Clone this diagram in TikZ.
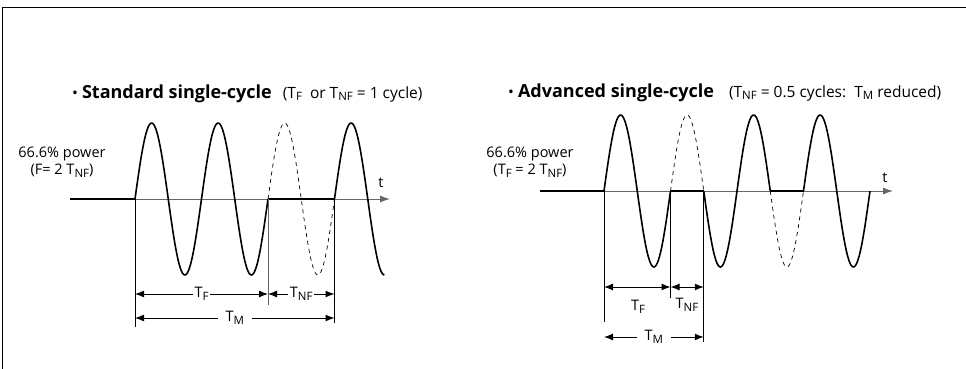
\documentclass[tikz,border=0pt]{standalone}
\usepackage{fontspec}
\setmainfont{Open Sans}
\usetikzlibrary{arrows.meta}
\newcommand{\lowidx}[1]{\raisebox{-0.35ex}{\fontsize{11.5}{12}\selectfont #1}}

\begin{document}
\begin{tikzpicture}[
    x=1pt, y=-1pt,
    wave/.style={line width=1.6pt, line join=round},
    ghost/.style={line width=0.7pt, dash pattern=on 4pt off 4pt},
    axis/.style={line width=1pt, black!60, -{Latex[length=10pt,width=7pt]}},
    hold/.style={line width=2pt},
    tick/.style={line width=1pt},
    dim/.style={line width=1pt, {Latex[length=9pt,width=7pt]}-{Latex[length=9pt,width=7pt]}},
    lbl/.style={font=\fontsize{14.5}{16}\selectfont, fill=white, inner sep=1.5pt},
    txt/.style={font=\fontsize{14.5}{17}\selectfont, align=center},
    title/.style={font=\fontsize{15.5}{17}\selectfont, anchor=base west, inner sep=0pt}
]
  \useasboundingbox (0,0) rectangle (966,369);

  % --- FRAME ---
  \draw[line width=1pt] (2,369) -- (2,8) -- (966,8);

  % --- LEFT PANEL ---
  \node[title] (titleA) at (72,98)
    {\textbullet\ {\fontsize{18}{20}\selectfont\textbf{Standard single-cycle}}\hspace{11pt}(T\lowidx{F}\ \ or T\lowidx{NF} = 1 cycle)};
  \node[txt] (powerA) at (62,162) {66.6\% power\\(F= 2 T\lowidx{NF})};
  \node[txt] (tA) at (381,183) {t};

  \coordinate (a0) at (70,199);
  \coordinate (a1) at (135,199);
  \coordinate (a2) at (268,199);
  \coordinate (a3) at (334.5,199);
  \coordinate (aEnd) at (390,199);

  \draw[axis] (a1) -- (aEnd);
  \draw[hold] (a0) -- (a1);
  \draw[hold] (a2) -- (a3);

  \draw[wave] plot[domain=0:2, samples=121, smooth] ({135+66.5*\x}, {199-76*sin(360*\x)});
  \draw[ghost] plot[domain=2:3, samples=61, smooth] ({135+66.5*\x}, {199-76*sin(360*\x)});
  \draw[wave] plot[domain=3:3.75, samples=46, smooth] ({135+66.5*\x}, {199-76*sin(360*\x)});

  \coordinate (a1b) at (135,327);
  \coordinate (a2b) at (268,305);
  \coordinate (a3b) at (334.5,323);
  \draw[tick] (a1) -- (a1b);
  \draw[tick, black!60] (a2) -- (a2b);
  \draw[tick] (a3) -- (a3b);

  \draw[dim] (a1 |- 0,294) -- node[lbl] {T\lowidx{F}} (a2 |- 0,294);
  \draw[dim] (a2 |- 0,294) -- node[lbl] {T\lowidx{NF}} (a3 |- 0,294);
  \draw[dim] (a1 |- 0,318) -- node[lbl, inner xsep=8pt] {T\lowidx{M}} (a3 |- 0,318);

  % --- RIGHT PANEL ---
  \node[title] (titleB) at (508,97)
    {\textbullet\ {\fontsize{18}{20}\selectfont\textbf{Advanced single-cycle}}\hspace{15pt}(T\lowidx{NF} = 0.5 cycles:\ \ T\lowidx{M} reduced)};
  \node[txt] (powerB) at (530,162) {66.6\% power\\(T\lowidx{F} = 2 T\lowidx{NF})};
  \node[txt] (tB) at (885,178) {t};

  \coordinate (b0) at (540,191);
  \coordinate (b1) at (604,191);
  \coordinate (b2) at (670.5,191);
  \coordinate (b3) at (703.75,191);
  \coordinate (b4) at (770.25,191);
  \coordinate (b5) at (803.5,191);
  \coordinate (bEnd) at (893,191);

  \draw[axis] (b1) -- (bEnd);
  \draw[hold] (b0) -- (b1);
  \draw[hold] (b2) -- (b3);
  \draw[hold] (b4) -- (b5);

  \draw[wave] plot[domain=0:1, samples=61, smooth] ({604+66.5*\x}, {191-76*sin(360*\x)});
  \draw[ghost] plot[domain=1:1.5, samples=31, smooth] ({604+66.5*\x}, {191-76*sin(360*\x)});
  \draw[wave] plot[domain=1.5:2.5, samples=61, smooth] ({604+66.5*\x}, {191-76*sin(360*\x)});
  \draw[ghost] plot[domain=2.5:3, samples=31, smooth] ({604+66.5*\x}, {191-76*sin(360*\x)});
  \draw[wave] plot[domain=3:4, samples=61, smooth] ({604+66.5*\x}, {191-76*sin(360*\x)});

  \coordinate (b1b) at (604,322);
  \coordinate (b2b) at (670.5,298);
  \coordinate (b3b) at (703.75,342);
  \draw[tick] (b1) -- (b1b);
  \draw[tick] (b2) -- (b2b);
  \draw[tick] (b3) -- (b3b);

  \draw[dim] (b1 |- 0,287) -- (b2 |- 0,287);
  \draw[dim] (b2 |- 0,287) -- (b3 |- 0,287);
  \node[txt] (tfB) at (638,307) {T\lowidx{F}};
  \node[txt] (tnfB) at (687,305) {T\lowidx{NF}};
  \draw[dim] (b1 |- 0,337) -- node[lbl, inner xsep=8pt] {T\lowidx{M}} (b3 |- 0,337);
\end{tikzpicture}
\end{document}
